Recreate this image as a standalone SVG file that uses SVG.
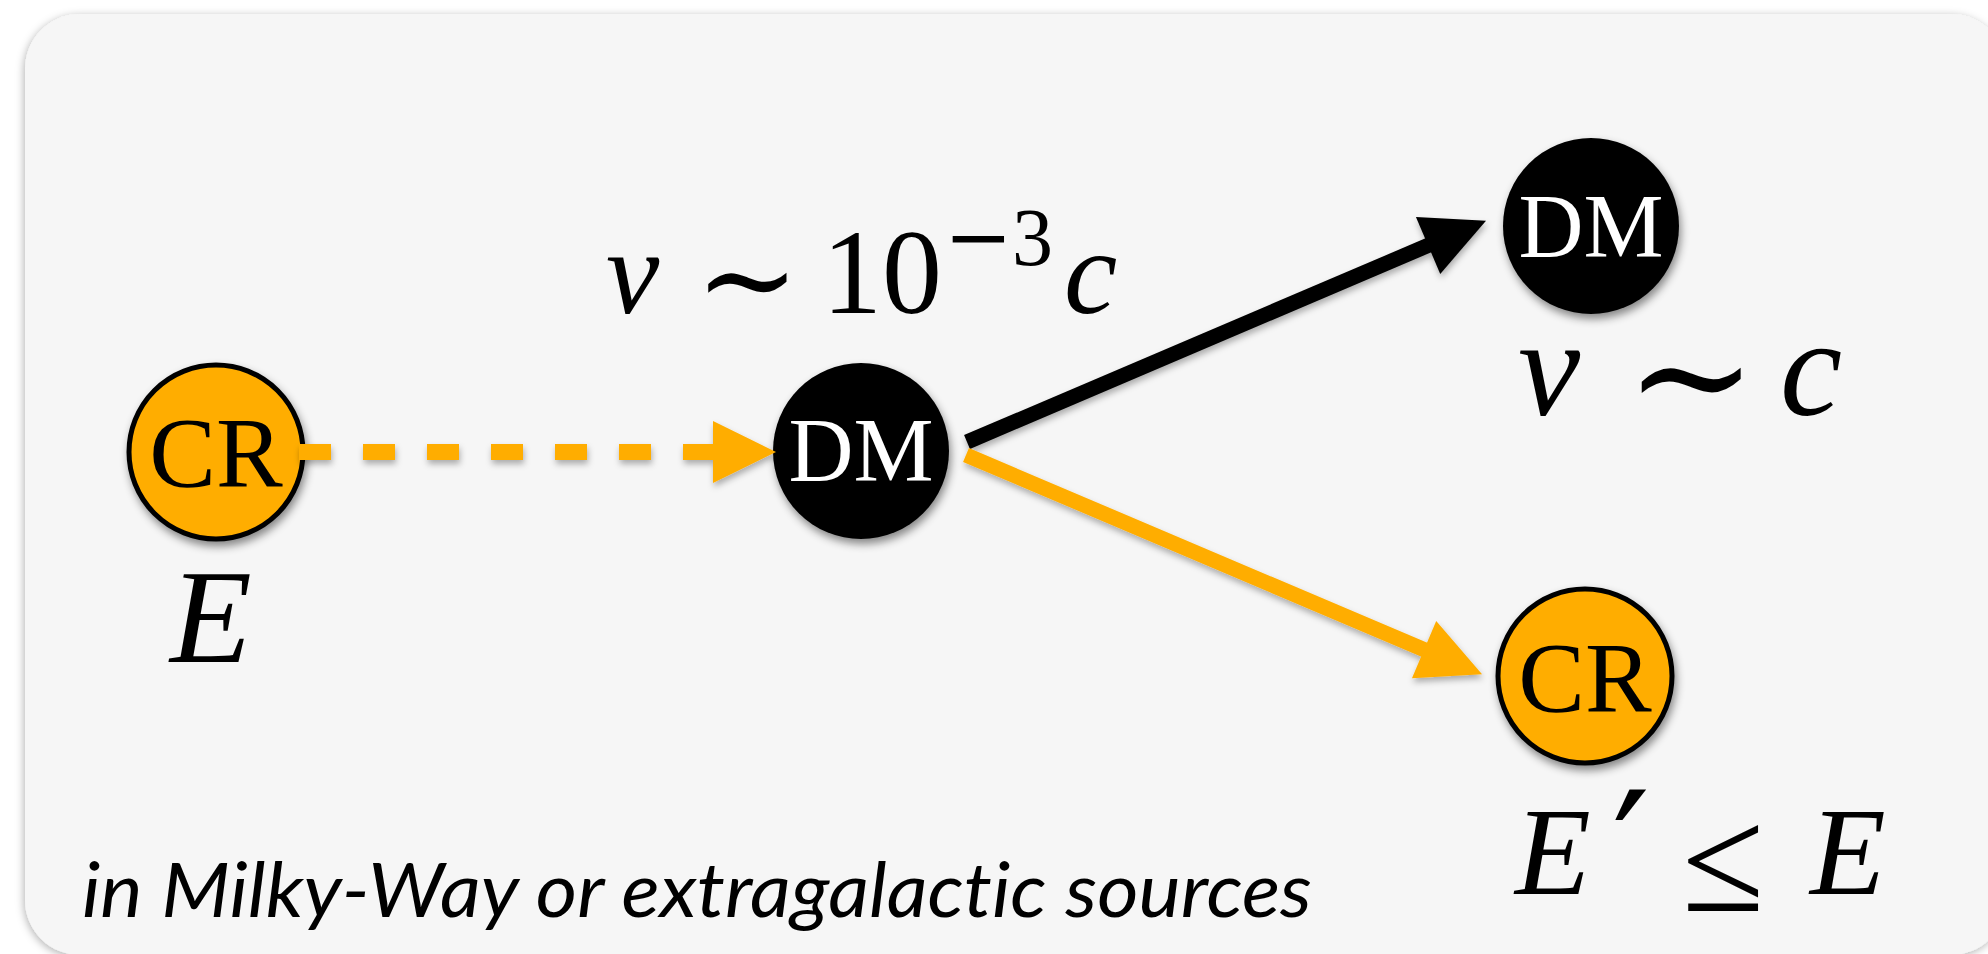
<svg xmlns="http://www.w3.org/2000/svg" width="1988" height="954" viewBox="0 0 1988 954">
  <defs>
    <filter id="boxShadow" x="-5%" y="-5%" width="110%" height="110%">
      <feDropShadow dx="-1" dy="2" stdDeviation="4" flood-color="#000" flood-opacity="0.3"/>
    </filter>
    <filter id="nodeShadow" x="-20%" y="-20%" width="140%" height="140%">
      <feDropShadow dx="2" dy="5" stdDeviation="4" flood-color="#000" flood-opacity="0.45"/>
    </filter>
    <filter id="lineShadow" x="-10%" y="-10%" width="120%" height="120%">
      <feDropShadow dx="1" dy="4" stdDeviation="3" flood-color="#000" flood-opacity="0.3"/>
    </filter>
    <marker id="arrowOrange" markerUnits="userSpaceOnUse" viewBox="0 0 63 62" markerWidth="63" markerHeight="62" refX="1" refY="31" orient="auto" overflow="visible">
      <path d="M0,0 L63,31 L0,62 Z" fill="#FFAD00"/>
    </marker>
    <marker id="arrowBlack" markerUnits="userSpaceOnUse" viewBox="0 0 63 62" markerWidth="63" markerHeight="62" refX="1" refY="31" orient="auto" overflow="visible">
      <path d="M0,0 L63,31 L0,62 Z" fill="#000"/>
    </marker>
  </defs>
  <style>
    .cr { fill: #FFAD00; stroke: #000; stroke-width: 5; }
    .dm { fill: #000; }
    .lbl { font-family: "Liberation Serif", "Times New Roman", serif; text-anchor: middle; }
    .math { font-family: "Liberation Serif", "Times New Roman", serif; fill: #000; }
    .it { font-style: italic; }
    .sym { font-family: "DejaVu Serif", "Liberation Serif", serif; fill: #000; }
    .note { font-family: Lato, "Open Sans", sans-serif; font-style: italic; font-size: 75px; fill: #000; font-variant-ligatures: none; }
  </style>

  <rect x="25" y="14" width="1981" height="941" rx="55" ry="55" fill="#F6F6F6" filter="url(#boxShadow)"/>

  <g id="node-cr-source" filter="url(#nodeShadow)">
    <circle class="cr" cx="216" cy="452" r="87"/>
    <text class="lbl" x="216" y="486" font-size="100" fill="#000">CR</text>
  </g>
  <g id="node-dm-rest" filter="url(#nodeShadow)">
    <circle class="dm" cx="861" cy="451" r="88"/>
    <text class="lbl" x="861" y="481" font-size="90" fill="#fff">DM</text>
  </g>
  <g id="node-dm-boosted" filter="url(#nodeShadow)">
    <circle class="dm" cx="1591" cy="226" r="88"/>
    <text class="lbl" x="1591" y="257" font-size="90" fill="#fff">DM</text>
  </g>
  <g id="node-cr-scattered" filter="url(#nodeShadow)">
    <circle class="cr" cx="1585" cy="676" r="87"/>
    <text class="lbl" x="1585" y="711" font-size="100" fill="#000">CR</text>
  </g>

  <g id="connectors" filter="url(#lineShadow)">
    <path d="M299,452 L714,452" stroke="#FFAD00" stroke-width="16" stroke-dasharray="32 32" fill="none" marker-end="url(#arrowOrange)"/>
    <path d="M967,442 L1429,245" stroke="#000" stroke-width="15" fill="none" marker-end="url(#arrowBlack)"/>
    <path d="M966,455 L1425,650" stroke="#FFAD00" stroke-width="15" fill="none" marker-end="url(#arrowOrange)"/>
  </g>

  <g id="label-v-slow">
    <text class="math it" x="606" y="313" font-size="120">v</text>
    <text class="sym" x="695" y="322" font-size="125">∼</text>
    <text class="math" x="822" y="313" font-size="120">10</text>
    <text class="sym" x="944" y="265" font-size="82">−</text>
    <text class="math" x="1012" y="265" font-size="82">3</text>
    <text class="math it" x="1064" y="313" font-size="120">c</text>
  </g>

  <g id="label-v-fast">
    <text class="math it" x="1518" y="415" font-size="140">v</text>
    <text class="sym" x="1625" y="430" font-size="158">∼</text>
    <text class="math it" x="1780" y="415" font-size="140">c</text>
  </g>

  <g id="label-E">
    <text class="math it" x="170" y="662" font-size="134">E</text>
  </g>

  <g id="label-Eprime">
    <text class="math it" x="1515" y="894" font-size="124">E</text>
    <text class="sym" x="1612" y="912" font-size="168">′</text>
    <text class="math" x="1682" y="911" font-size="150">≤</text>
    <text class="math it" x="1810" y="894" font-size="124">E</text>
  </g>

  <text class="note" x="82" y="917" textLength="1230" lengthAdjust="spacingAndGlyphs">in Milky-Way or extragalactic sources</text>
</svg>
